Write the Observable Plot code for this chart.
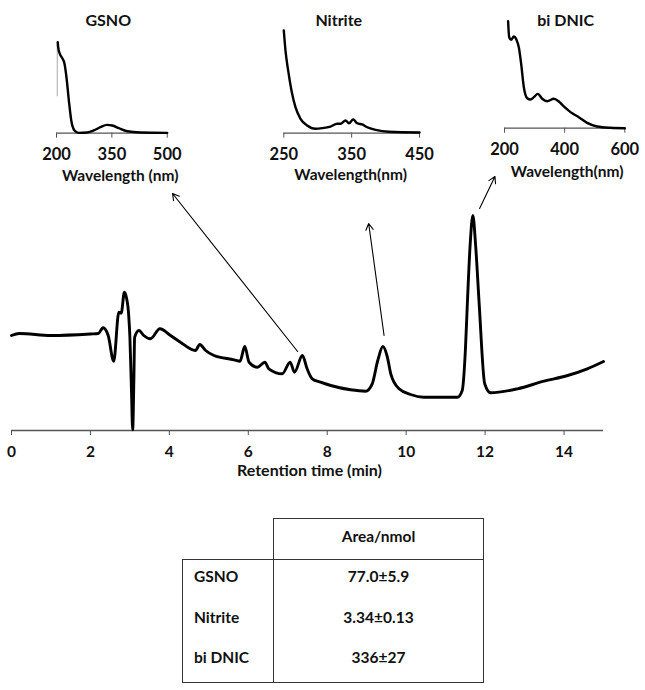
<!DOCTYPE html>
<html><head><meta charset="utf-8">
<script src="https://cdn.jsdelivr.net/npm/d3@7"></script>
<script src="https://cdn.jsdelivr.net/npm/@observablehq/plot@0.6"></script>
<style>
body{margin:0;background:#fff;}
#root{position:relative;width:645px;height:690px;overflow:hidden;font-family:Lato,"Open Sans",sans-serif;}
.abs{position:absolute;}
#tbl{position:absolute;left:182px;top:518px;border-collapse:collapse;font-weight:bold;font-size:15.5px;color:#111;}
#tbl td{padding:0;box-sizing:border-box;}
</style></head><body><div id="root"></div>
<script>
// ---- Chromatogram (retention time in min, detector signal in arbitrary units)
const retentionTime = [0, 0.2, 1.0, 2.0, 2.2, 2.32, 2.45, 2.59, 2.72, 2.78, 2.86, 2.91, 2.97, 3.0, 3.04, 3.07, 3.10, 3.12, 3.23, 3.35, 3.52, 3.76, 4.03, 4.28, 4.66, 4.77, 4.92, 5.13, 5.64, 5.79, 5.91, 6.02, 6.23, 6.42, 6.52, 6.86, 7.06, 7.17, 7.37, 7.49, 7.62, 7.83, 8.09, 8.59, 8.97, 9.14, 9.28, 9.41, 9.52, 9.61, 9.82, 10.11, 10.45, 11.3, 11.42, 11.5, 11.55, 11.62, 11.69, 11.76, 11.85, 11.99, 12.14, 12.82, 13.49, 14.09, 14.59, 15.0];
const signal = [95, 97, 95, 96.5, 97, 102.7, 95, 69.3, 118.3, 117.3, 138.3, 133.3, 115, 93, 40, 0.7, 50, 93.3, 100, 95, 91.7, 101.7, 95, 88.3, 80, 86, 80, 75, 70.7, 69.3, 84, 68.3, 63.3, 68.3, 61.7, 56.7, 68.3, 58.3, 75, 61.7, 51.7, 48.3, 45, 40.7, 39.3, 46.7, 70, 84, 74, 56.7, 41.7, 36, 33.3, 33.3, 40, 80, 126.7, 185, 215, 185, 126.7, 46.7, 37.7, 41.7, 49.3, 55, 61.7, 69];
const timeTicks = [0, 2, 4, 6, 8, 10, 12, 14];
const timeLabel = "Retention time (min)";

// ---- Arrows from peaks to spectra (chromatogram coordinates)
const arrowFromTime = [7.25, 9.44, 11.86];
const arrowFromSignal = [79, 95, 222];
const arrowToTime = [4.08, 9.05, 12.25];
const arrowToSignal = [237, 207, 254];

// ---- UV-vis spectra (wavelength nm, normalised absorbance)
const gsnoWavelength = [203.5, 204.5, 209, 215, 221.7, 227, 233.5, 240, 248.8, 260, 283, 301, 319, 337, 351, 369, 391.5, 427.6, 500];
const gsnoAbs = [1.0, 0.945, 0.872, 0.829, 0.763, 0.615, 0.359, 0.14, 0.03, 0.004, 0.008, 0.03, 0.066, 0.092, 0.085, 0.055, 0.022, 0.008, 0.004];
const nitriteWavelength = [250, 252.5, 256.4, 261.3, 267.2, 274.6, 284.4, 296.7, 306.6, 318.9, 328.7, 333.6, 341, 345.9, 352.3, 358.2, 365.5, 372.9, 385.2, 404.9, 450];
const nitriteAbs = [1.0, 0.805, 0.611, 0.416, 0.253, 0.14, 0.075, 0.043, 0.049, 0.065, 0.092, 0.092, 0.124, 0.097, 0.133, 0.097, 0.085, 0.058, 0.033, 0.014, 0.007];
const dnicWavelength = [212, 215.6, 222, 231, 240, 247.6, 255.4, 264.3, 275.5, 286.5, 297.6, 310.9, 325.4, 342, 364, 380.7, 397.3, 419.5, 447, 475, 508, 552, 600];
const dnicAbs = [1.0, 0.85, 0.826, 0.857, 0.826, 0.757, 0.602, 0.383, 0.28, 0.268, 0.29, 0.321, 0.275, 0.252, 0.275, 0.25, 0.203, 0.15, 0.103, 0.05, 0.016, 0.004, 0];
const gsnoTicks = [200, 350, 500];
const nitriteTicks = [250, 350, 450];
const dnicTicks = [200, 400, 600];
const spectrumTitles = ["GSNO", "Nitrite", "bi DNIC"];
const spectrumLabels = ["Wavelength (nm)", "Wavelength(nm)", "Wavelength(nm)"];

// ---- Table
const tableHeader = "Area/nmol";
const tableRows = ["GSNO", "Nitrite", "bi DNIC"];
const tableValues = ["77.0±5.9", "3.34±0.13", "336±27"];

const root = document.getElementById("root");
const FONT = "Lato, 'Open Sans', sans-serif";

// Main chromatogram
const chrom = retentionTime.map((t, i) => ({t, v: signal[i]}));
const arrows = arrowFromTime.map((_, i) => ({x1: arrowFromTime[i], y1: arrowFromSignal[i], x2: arrowToTime[i], y2: arrowToSignal[i]}));
const main = Plot.plot({
  width: 645, height: 490,
  marginLeft: 11, marginRight: 42, marginTop: 0, marginBottom: 60,
  x: {domain: [0, 15]},
  y: {domain: [0, 430], axis: null},
  style: {fontFamily: FONT, fontSize: "14px", fontWeight: "bold", color: "#111", background: "transparent", overflow: "visible"},
  marks: [
    Plot.ruleY([0], {stroke: "#555", strokeWidth: 1.3}),
    Plot.axisX({ticks: timeTicks, tickSize: 5, tickPadding: 10.5, label: null, stroke: "#555", fontSize: 15.5}),
    Plot.lineY(chrom, {x: "t", y: "v", curve: "monotone-x", stroke: "#000", strokeWidth: 2.9}),
    Plot.arrow(arrows, {x1: "x1", y1: "y1", x2: "x2", y2: "y2", stroke: "#000", strokeWidth: 1.1, headLength: 10}),
    Plot.text([timeLabel], {text: d => d, frameAnchor: "bottom", dy: 45.5, dx: 2, fontSize: 16})
  ]
});
main.classList.add("abs");
main.style.left = "0px"; main.style.top = "0px";
root.appendChild(main);

function inset(cfg) {
  const data = cfg.wl.map((w, i) => ({w, a: cfg.ab[i]}));
  const axisY = cfg.h - cfg.mb;
  const marks = [
    Plot.ruleY([0], {stroke: "#555", strokeWidth: 1.3}),
    Plot.axisX({ticks: cfg.ticks, tickSize: 5, tickPadding: 10.5, label: null, stroke: "#555", fontSize: 16.5}),
    Plot.lineY(data, {x: "w", y: "a", curve: "monotone-x", stroke: "#000", strokeWidth: 2.4}),
    Plot.text([cfg.title], {text: d => d, frameAnchor: "top", dy: cfg.titleY - cfg.mt, dx: cfg.titleDx, fontSize: 16}),
    Plot.text([cfg.label], {text: d => d, frameAnchor: "bottom", dy: cfg.labelY - axisY, dx: cfg.labelDx, fontSize: 15.5})
  ];
  if (cfg.extra) marks.unshift(cfg.extra);
  const p = Plot.plot({
    width: cfg.w, height: cfg.h,
    marginLeft: cfg.ml, marginRight: cfg.mr, marginTop: cfg.mt, marginBottom: cfg.mb,
    x: {domain: cfg.domain},
    y: {domain: [0, 1], axis: null},
    style: {fontFamily: FONT, fontSize: "14px", fontWeight: "bold", color: "#111", background: "transparent", overflow: "visible"},
    marks
  });
  p.classList.add("abs");
  p.style.left = cfg.left + "px"; p.style.top = cfg.top + "px";
  root.appendChild(p);
}

inset({left: 0, top: 0, w: 215, h: 195, ml: 56, mr: 48.3, mt: 41.7, mb: 62.3,
  domain: [200, 500], ticks: gsnoTicks, wl: gsnoWavelength, ab: gsnoAbs,
  title: spectrumTitles[0], titleY: 14, titleDx: -3.6, label: spectrumLabels[0], labelY: 180.5, labelDx: 8.4,
  extra: Plot.ruleX([202], {y1: 0.4, y2: 1.0, stroke: "#aaa", strokeWidth: 1})});
inset({left: 215, top: 0, w: 215, h: 195, ml: 68.3, mr: 11, mt: 30, mb: 62.3,
  domain: [250, 450], ticks: nitriteTicks, wl: nitriteWavelength, ab: nitriteAbs,
  title: spectrumTitles[1], titleY: 14, titleDx: -12.9, label: spectrumLabels[1], labelY: 179.5, labelDx: -1});
inset({left: 430, top: 0, w: 215, h: 195, ml: 74, mr: 20.7, mt: 20.7, mb: 67.3,
  domain: [200, 600], ticks: dnicTicks, wl: dnicWavelength, ab: dnicAbs,
  title: spectrumTitles[2], titleY: 14, titleDx: 1, label: spectrumLabels[2], labelY: 176, labelDx: 2.5});

// Table
const B = "1.6px solid #333";
const tbl = document.createElement("table");
tbl.id = "tbl";
const hr = tbl.insertRow();
const c0 = hr.insertCell(); c0.style.cssText = "width:91px;height:41px;border:none;";
const c1 = hr.insertCell(); c1.textContent = tableHeader;
c1.style.cssText = `width:210px;height:41px;border:${B};text-align:center;vertical-align:middle;padding-bottom:6px;`;
tableRows.forEach((name, i) => {
  const r = tbl.insertRow();
  const a = r.insertCell(); a.textContent = name;
  const b = r.insertCell(); b.textContent = tableValues[i];
  const last = i === tableRows.length - 1, first = i === 0;
  const common = `height:41px;vertical-align:middle;padding-bottom:9px;border-left:${B};border-right:${B};` +
    (first ? `border-top:${B};` : "") + (last ? `border-bottom:${B};` : "");
  a.style.cssText = common + "text-align:left;padding-left:11px;";
  b.style.cssText = common + "text-align:center;";
});
root.appendChild(tbl);
</script>
</body></html>
